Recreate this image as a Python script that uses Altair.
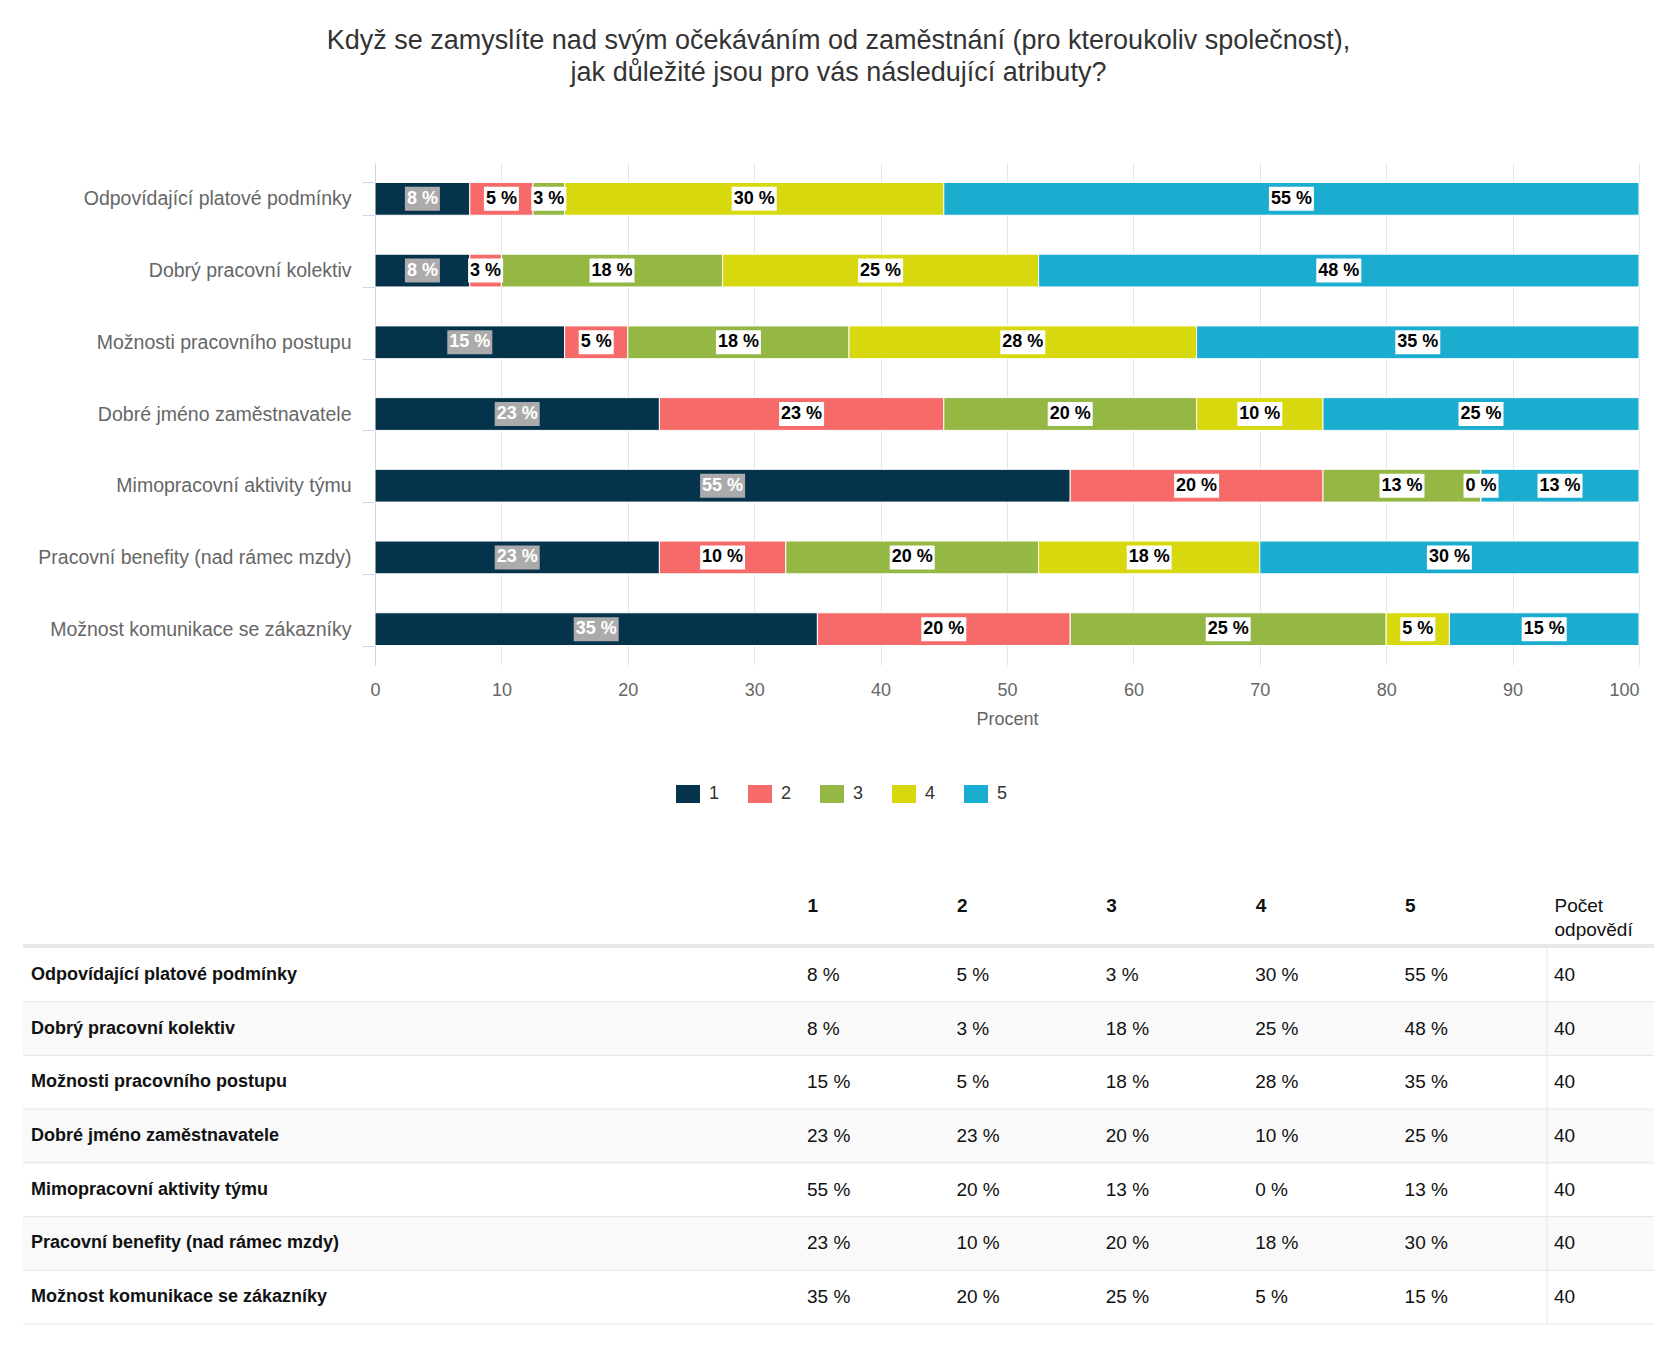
import altair as alt
import pandas as pd

FONT = "Liberation Sans"

title_lines = [
    "Když se zamyslíte nad svým očekáváním od zaměstnání (pro kteroukoliv společnost),",
    "jak důležité jsou pro vás následující atributy?",
]
categories = [
    "Odpovídající platové podmínky",
    "Dobrý pracovní kolektiv",
    "Možnosti pracovního postupu",
    "Dobré jméno zaměstnavatele",
    "Mimopracovní aktivity týmu",
    "Pracovní benefity (nad rámec mzdy)",
    "Možnost komunikace se zákazníky",
]
answers = ["1", "2", "3", "4", "5"]
# share of respondents (%) choosing each answer, per attribute
share_1 = [7.5, 7.5, 15.0, 22.5, 55.0, 22.5, 35.0]
share_2 = [5.0, 2.5, 5.0, 22.5, 20.0, 10.0, 20.0]
share_3 = [2.5, 17.5, 17.5, 20.0, 12.5, 20.0, 25.0]
share_4 = [30.0, 25.0, 27.5, 10.0, 0.0, 17.5, 5.0]
share_5 = [55.0, 47.5, 35.0, 25.0, 12.5, 30.0, 15.0]
respondents = [40, 40, 40, 40, 40, 40, 40]
colors = ["#05334b", "#f76a6a", "#95b743", "#d8d80f", "#1badcf"]
x_ticks = [0, 10, 20, 30, 40, 50, 60, 70, 80, 90, 100]
x_title = "Procent"
count_header = "Počet odpovědí"

shares = [share_1, share_2, share_3, share_4, share_5]
bar_df = pd.DataFrame(
    [
        {"category": c, "answer": a, "pct": shares[j][i]}
        for i, c in enumerate(categories)
        for j, a in enumerate(answers)
    ]
)

PLOT_W, PLOT_H = 1264, 502

y_axis = alt.Axis(
    title=None,
    domainColor="#ccd6eb",
    domainWidth=1,
    tickColor="#ccd6eb",
    tickSize=13,
    tickBand="extent",
    labelFont=FONT,
    labelFontSize=19.5,
    labelColor="#666666",
    labelPadding=11,
    labelLimit=500,
    grid=False,
)
y_bar = alt.Y(
    "category:N",
    scale=alt.Scale(domain=categories, paddingInner=0.543, paddingOuter=0.2715),
    axis=y_axis,
)

x_axis = alt.Axis(
    title=x_title,
    values=x_ticks,
    domain=False,
    ticks=False,
    grid=True,
    gridColor="#e6e6e6",
    gridWidth=1,
    labelFont=FONT,
    labelFontSize=18,
    labelColor="#666666",
    labelPadding=16,
    labelFlush=False,
    labelAlign={"condition": {"test": "datum.value == 100", "value": "right"}, "value": "center"},
    titleFont=FONT,
    titleFontSize=18,
    titleColor="#666666",
    titleFontWeight="normal",
    titlePadding=11,
)


def x_bar(field):
    return alt.X(f"{field}:Q", scale=alt.Scale(domain=[0, 100], nice=False), axis=x_axis)


legend = alt.Legend(
    title=None,
    orient="none",
    legendX=301,
    legendY=619,
    direction="horizontal",
    symbolType="M-1,-0.75H1V0.75H-1Z",
    symbolSize=576,
    symbolStrokeWidth=0,
    symbolOpacity=1,
    labelFont=FONT,
    labelFontSize=18,
    labelColor="#333333",
    labelOffset=9,
    columnPadding=28,
    padding=0,
)

base = alt.Chart(bar_df).transform_stack(
    stack="pct",
    groupby=["category"],
    sort=[alt.SortField("answer", order="ascending")],
    as_=["x0", "x1"],
).transform_calculate(
    mid="(datum.x0 + datum.x1) / 2",
    label="round(datum.pct) + ' %'",
)

bars = base.mark_bar(stroke="white", strokeWidth=1).encode(
    x=x_bar("x0"),
    x2=alt.X2("x1"),
    y=y_bar,
    color=alt.Color("answer:N", scale=alt.Scale(domain=answers, range=colors), legend=legend),
)

path_short = "M-1.094,-0.75H1.094V0.75H-1.094Z"
path_long = "M-1.406,-0.75H1.406V0.75H-1.406Z"
boxes = base.mark_point(filled=True, size=1024, strokeWidth=0, opacity=1).encode(
    x=x_bar("mid"),
    y=y_bar,
    shape=alt.condition("round(datum.pct) >= 10", alt.value(path_long), alt.value(path_short)),
    fill=alt.condition("datum.answer == '1'", alt.value("#ababab"), alt.value("white")),
)

labels = base.mark_text(font=FONT, fontSize=18, fontWeight="bold", baseline="middle").encode(
    x=x_bar("mid"),
    y=y_bar,
    text="label:N",
    color=alt.condition("datum.answer == '1'", alt.value("white"), alt.value("black")),
)

bar_chart = alt.layer(bars, boxes, labels).properties(width=PLOT_W, height=PLOT_H)

# ---------------- table ----------------
table_rows = []
for i, c in enumerate(categories):
    for j, a in enumerate(answers):
        table_rows.append({"category": c, "col": a, "text": f"{int(shares[j][i] + 0.5)} %"})
    table_rows.append({"category": c, "col": count_header, "text": str(respondents[i])})
tdf = pd.DataFrame(table_rows)
rows_df = pd.DataFrame({"category": categories, "idx": list(range(len(categories)))})

T_W, T_H = 1279, 376
LEFT = -352
cols = answers + [count_header]

y_tab_scale = alt.Scale(domain=categories, paddingInner=0, paddingOuter=0)
y_tab = alt.Y("category:N", scale=y_tab_scale, axis=None)

x_tab = alt.X(
    "col:N",
    scale=alt.Scale(type="point", domain=cols, range=[432, 1179], padding=0),
    axis=alt.Axis(
        orient="top",
        title=None,
        domain=False,
        ticks=False,
        tickSize=0,
        grid=False,
        labelAngle=0,
        labelAlign="left",
        labelBaseline="middle",
        labelPadding=43,
        labelFont=FONT,
        labelFontSize=19,
        labelColor="#111111",
        labelLineHeight=24,
        labelOverlap=False,
        labelLimit=0,
        labelFontWeight={
            "condition": {"test": f"datum.value == '{count_header}'", "value": "normal"},
            "value": "bold",
        },
        labelExpr=f"datum.value == '{count_header}' ? ['Počet', 'odpovědí'] : datum.label",
    ),
)

row_bg = (
    alt.Chart(rows_df)
    .transform_filter("datum.idx % 2 == 1")
    .mark_rect(color="#f9f9f9")
    .encode(y=y_tab, x=alt.value(LEFT), x2=alt.value(T_W))
)
row_lines = (
    alt.Chart(rows_df)
    .mark_rule(color="#e6e6e6", strokeWidth=1)
    .encode(
        y=alt.Y("category:N", scale=y_tab_scale, axis=None, bandPosition=1),
        x=alt.value(LEFT),
        x2=alt.value(T_W),
    )
)
header_line = (
    alt.Chart(rows_df.head(1))
    .mark_rule(color="#e8e8e8", strokeWidth=4)
    .encode(y=alt.value(-2), x=alt.value(LEFT), x2=alt.value(T_W))
)
col_sep = (
    alt.Chart(rows_df.head(1))
    .mark_rule(color="#e6e6e6", strokeWidth=1)
    .encode(x=alt.value(1172), y=alt.value(0), y2=alt.value(T_H))
)
row_labels = (
    alt.Chart(rows_df)
    .mark_text(align="left", baseline="middle", font=FONT, fontSize=18, fontWeight="bold", color="#111111")
    .encode(y=y_tab, x=alt.value(LEFT + 8), text="category:N")
)
values = (
    alt.Chart(tdf)
    .mark_text(align="left", baseline="middle", font=FONT, fontSize=19, color="#111111")
    .encode(x=x_tab, y=y_tab, text="text:N")
)

table_chart = alt.layer(row_bg, row_lines, header_line, col_sep, row_labels, values).properties(
    width=T_W, height=T_H
)

chart = (
    alt.vconcat(bar_chart, table_chart, spacing=93)
    .resolve_scale(color="independent")
    .properties(
        title=alt.TitleParams(
            text=title_lines,
            font=FONT,
            fontSize=27,
            fontWeight="normal",
            color="#333333",
            anchor="middle",
            lineHeight=32,
            offset=66,
        ),
        padding={"left": 13, "top": 19, "right": 5, "bottom": 5},
        background="white",
    )
    .configure(font=FONT)
    .configure_view(stroke=None)
)

chart.save("out.html", embed_options={"renderer": "svg", "actions": False})
